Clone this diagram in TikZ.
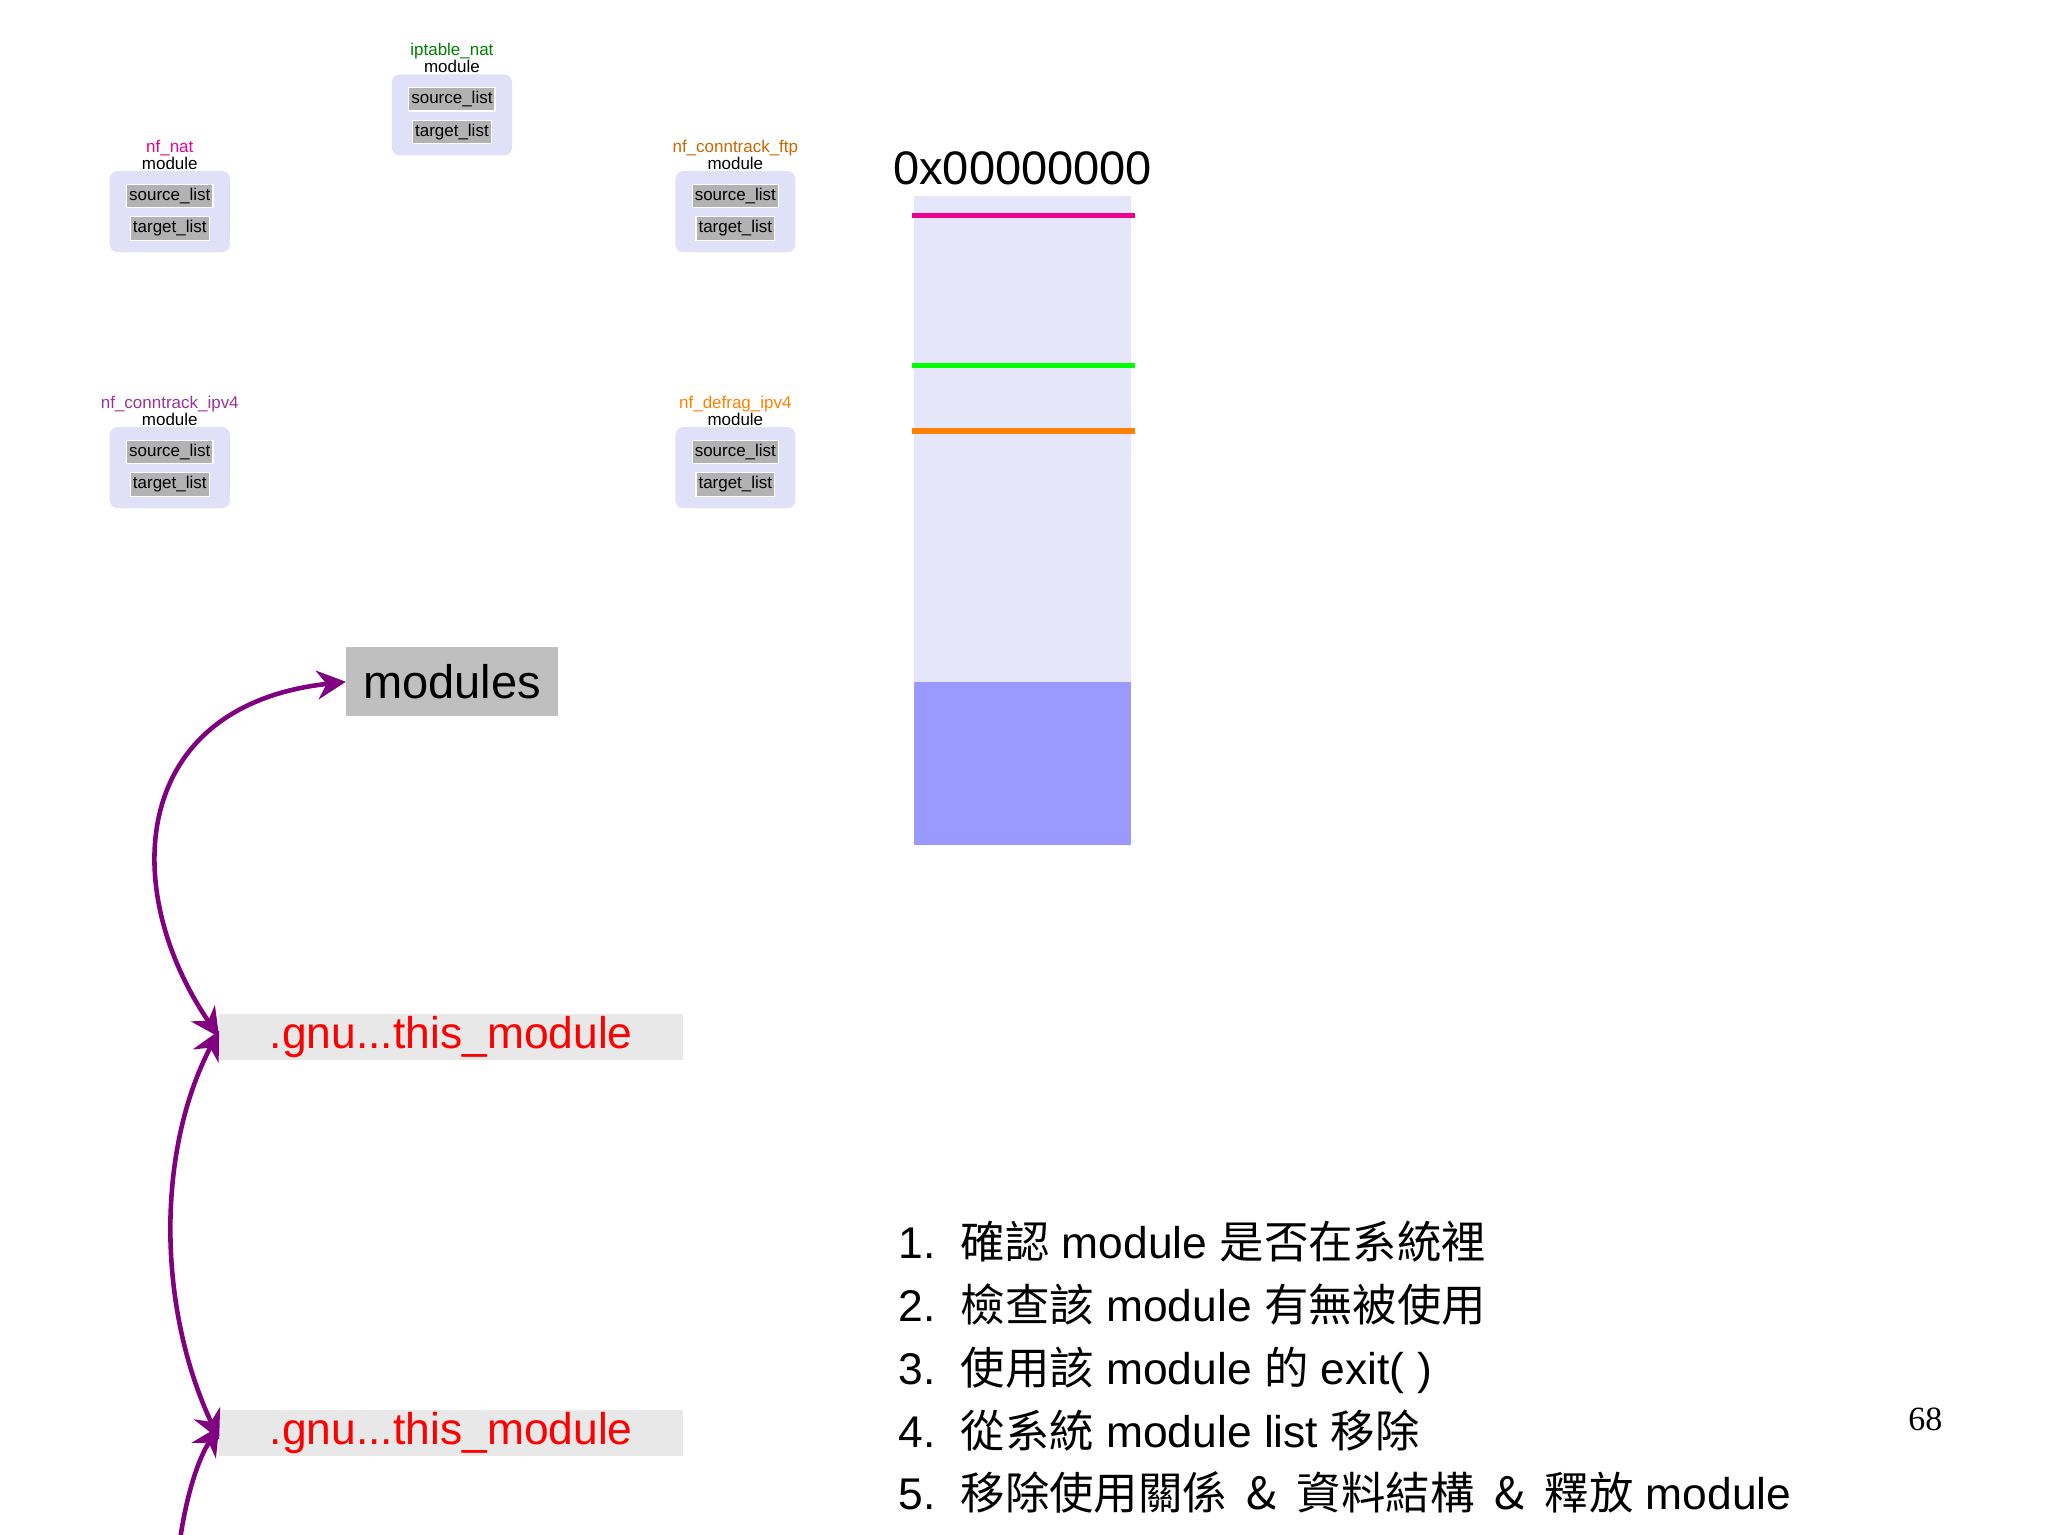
\documentclass[tikz,border=0pt]{standalone}
\usepackage{fontspec}
\setmainfont{Liberation Sans}
\newfontfamily\cjk{Noto Sans CJK TC}
\newfontfamily\serifnum{Liberation Serif}
\usetikzlibrary{arrows.meta}
\definecolor{lav}{HTML}{E6E6FA}
\definecolor{modbox}{HTML}{E0E0F8}
\definecolor{purp}{HTML}{800080}
\tikzset{
 modframe/.style={fill=modbox,draw=none,rounded corners=6pt,minimum width=92pt,minimum height=62pt},
 lst/.style={fill=black!30,draw=white,line width=1pt,font=\fontsize{13}{13}\selectfont,inner sep=2pt,minimum height=18pt},
 mname/.style={font=\fontsize{13}{13}\selectfont,inner sep=0pt,align=center},
 arr/.style={purp,line width=3.5pt,-{Stealth[length=22pt,width=22pt]}},
 darr/.style={purp,line width=3.5pt,{Stealth[length=22pt,width=22pt]}-{Stealth[length=22pt,width=22pt]}},
 gnu/.style={fill=black!9,minimum width=355pt,minimum height=35pt,text=red,font=\fontsize{34}{34}\selectfont,inner sep=0pt},
 mline/.style={line width=4pt}
}
\newcommand{\modul}[5]{%
 \node[modframe] (#1f) at (#3,#4) {};
 \node[mname,anchor=south] (#1n) at (#3,#4-32) {\textcolor{#5}{#2}\\module};
 \node[lst] (#1s) at (#3,#4-12) {source\_list};
 \node[lst] (#1t) at (#3,#4+13) {target\_list};
}
\begin{document}
\begin{tikzpicture}[x=1pt,y=-1pt]
\useasboundingbox[fill=white] (0,0) rectangle (1568,1175);
\modul{ipt}{iptable\_nat}{346}{88}{green!50!black}
\modul{nat}{nf\_nat}{130}{162}{magenta}
\modul{ftp}{nf\_conntrack\_ftp}{563}{162}{orange!80!black}
\modul{ct}{nf\_conntrack\_ipv4}{130}{358}{purp!80}
\modul{defrag}{nf\_defrag\_ipv4}{563}{358}{orange}
% memory
\node[anchor=south,font=\fontsize{36}{36}\selectfont,inner sep=0pt] (addr) at (783,142) {0x00000000};
\fill[lav] (700,150) rectangle (866,522);
\fill[blue!40] (700,522) rectangle (866,647);
\draw[mline,magenta] (698,165) -- (869,165);
\draw[mline,green] (698,280) -- (869,280);
\draw[mline,orange] (698,330) -- (869,330);
% modules chain
\node[fill=black!25,minimum width=162pt,minimum height=53pt,font=\fontsize{36}{36}\selectfont,inner sep=0pt] (mods) at (346,522) {modules};
\node[gnu] (g1) at (345.5,794) {.gnu...this\_module};
\node[gnu] (g2) at (345.5,1097) {.gnu...this\_module};
\coordinate (bot) at (138,1178);
\draw[darr] (g1.west) .. controls (90,680) and (100,540) .. (mods.west);
\draw[darr] ([yshift=5pt]g1.west) .. controls (120,880) and (120,1000) .. ([yshift=-5pt]g2.west);
\draw[arr] (bot) .. controls (142,1150) and (150,1120) .. ([yshift=5pt]g2.west);
% list
\node[anchor=north west,font=\fontsize{34}{48}\selectfont,align=left,inner sep=0pt] (steps) at (688,935) {%
1.\ \ {\cjk 確認} module {\cjk 是否在系統裡}\\
2.\ \ {\cjk 檢查該} module {\cjk 有無被使用}\\
3.\ \ {\cjk 使用該} module {\cjk 的} exit( )\\
4.\ \ {\cjk 從系統} module list {\cjk 移除}\\
5.\ \ {\cjk 移除使用關係\ \ \&\ \ 資料結構\ \ \&\ \ 釋放} module};
\node[font=\serifnum\fontsize{26}{26}\selectfont] (pg) at (1474,1087) {68};
\end{tikzpicture}
\end{document}
